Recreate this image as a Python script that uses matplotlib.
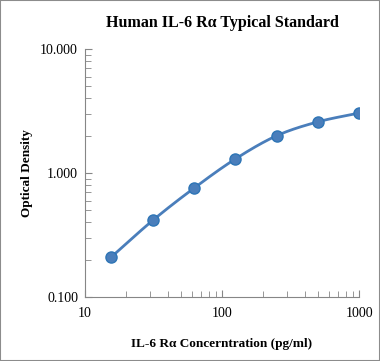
import numpy as np
import matplotlib.pyplot as plt
from matplotlib.patches import Rectangle

# standard curve values
conc = [15.6, 31.25, 62.5, 125, 250, 500, 1000]
od = [0.211, 0.416, 0.757, 1.30, 2.00, 2.59, 3.05]
y_ticks = [0.1, 1, 10]
y_labels = ["0.100", "1.000", "10.000"]
x_ticks = [10, 100, 1000]
x_labels = ["10", "100", "1000"]

plt.rcParams['font.family'] = ['Liberation Serif', 'DejaVu Serif']


#smooth the curve in log space, like an Excel smoothed line
def smooth(xs, ys, n=30):
    lx = np.log10(xs)
    ly = np.log10(ys)
    px = np.concatenate([[2 * lx[0] - lx[1]], lx, [2 * lx[-1] - lx[-2]]])
    py = np.concatenate([[2 * ly[0] - ly[1]], ly, [2 * ly[-1] - ly[-2]]])
    outx, outy = [], []
    t = np.linspace(0, 1, n)
    for i in range(1, len(px) - 2):
        for p, out in ((px, outx), (py, outy)):
            p0, p1, p2, p3 = p[i - 1], p[i], p[i + 1], p[i + 2]
            out.extend(0.5 * (2 * p1 + (-p0 + p2) * t + (2 * p0 - 5 * p1 + 4 * p2 - p3) * t ** 2
                              + (-p0 + 3 * p1 - 3 * p2 + p3) * t ** 3))
    return 10 ** np.array(outx), 10 ** np.array(outy)


fig = plt.figure(figsize=(3.8, 3.61), dpi=100)
ax = fig.add_axes([0.2237, 0.177, 0.7213, 0.687])

sx, sy = smooth(conc, od)
ax.plot(sx, sy, color='#4a7ebb', lw=2.0, solid_capstyle='round')
ax.plot(conc, od, 'o', color='#4a7ebb', markeredgecolor='#2e75b6',
        markersize=8, markeredgewidth=1)

ax.set_xscale('log')
ax.set_yscale('log')
ax.set_xlim(10, 1000)
ax.set_ylim(0.1, 10)
ax.set_yticks(y_ticks)
ax.set_yticklabels(y_labels)
ax.set_xticks(x_ticks)
ax.set_xticklabels(x_labels)

for s in ['top', 'right']:
    ax.spines[s].set_visible(False)
for s in ['left', 'bottom']:
    ax.spines[s].set_color('#868686')
ax.tick_params(which='both', direction='in', color='#868686', labelsize=10, labelcolor='black')
ax.tick_params(which='major', length=5)
ax.tick_params(which='minor', length=4)
ax.tick_params(axis='y', pad=5)
ax.tick_params(axis='x', pad=7)

ax.set_title("Human IL-6 Rα Typical Standard", fontsize=11.5, fontweight='bold', pad=16)
ax.set_xlabel("IL-6 Rα Concerntration (pg/ml)", fontsize=9.5, fontweight='bold')
ax.set_ylabel("Optical Density", fontsize=9.5, fontweight='bold')
ax.xaxis.set_label_coords(0.5, -0.165)
ax.yaxis.set_label_coords(-0.212, 0.5)
ax.yaxis.label.set_verticalalignment('center')

fig.patches.append(Rectangle((0, 0), 1, 1, transform=fig.transFigure, fill=False,
                             edgecolor='#8c8c8c', lw=1.5))

fig.savefig('out.png', dpi=100)
